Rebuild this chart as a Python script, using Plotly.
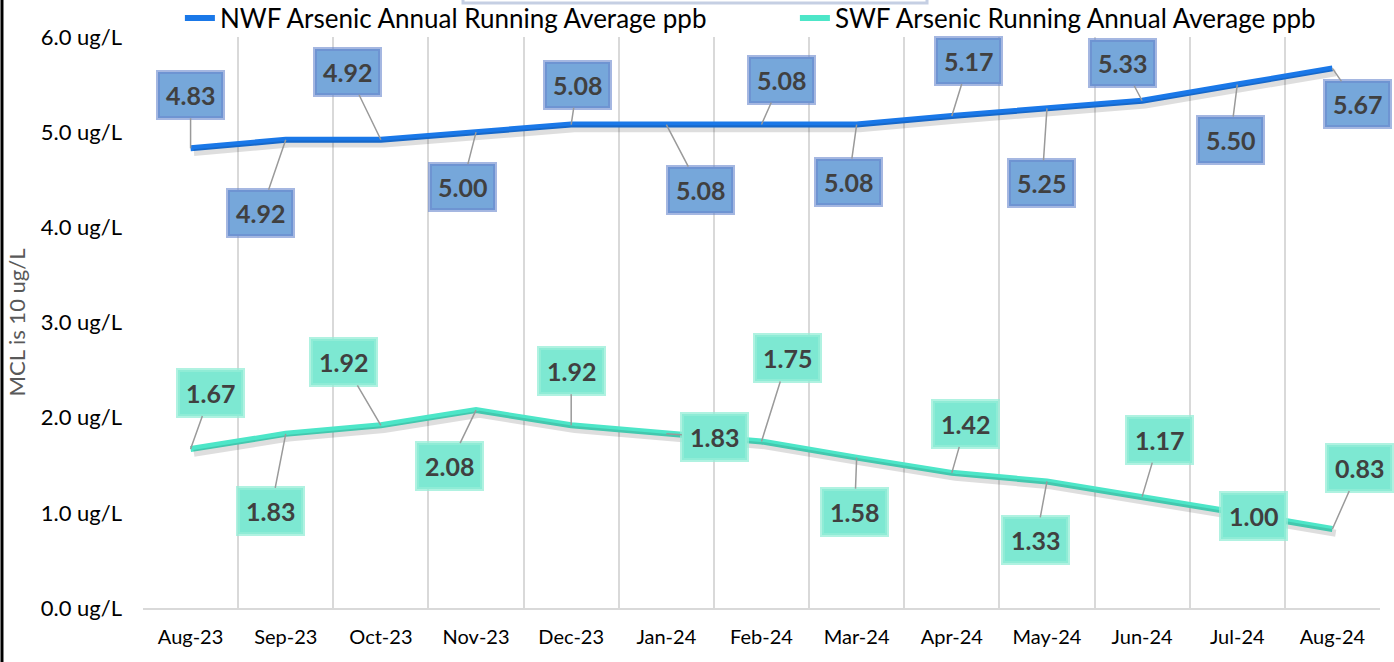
import plotly.graph_objects as go

months = ["Aug-23", "Sep-23", "Oct-23", "Nov-23", "Dec-23", "Jan-24", "Feb-24",
          "Mar-24", "Apr-24", "May-24", "Jun-24", "Jul-24", "Aug-24"]
nwf = [4.83, 4.92, 4.92, 5.00, 5.08, 5.08, 5.08, 5.08, 5.17, 5.25, 5.33, 5.50, 5.67]
swf = [1.67, 1.83, 1.92, 2.08, 1.92, 1.83, 1.75, 1.58, 1.42, 1.33, 1.17, 1.00, 0.83]
nwf_name = "NWF Arsenic Annual Running Average ppb"
swf_name = "SWF Arsenic Running Annual Average ppb"

# label offsets (pixels) for data labels
nwf_off = [(0, -53), (-25, 73), (-33, -68), (-14, 55), (6, -40), (34, 65), (20, -45),
           (-8, 57), (17, -55), (-5, 75), (-20, -38), (-7, 55), (25, 36)]
swf_off = [(20, -56), (-15, 77), (-37, -63), (-27, 56), (0, -54), (48, 3), (26, -83),
           (-2, 54), (14, -49), (-11, 59), (17, -57), (16, 3), (27, -61)]

BLUE = "#1a78e8"
TEAL = "#4de6c8"
FONT = "Lato"

fig = go.Figure()

# soft shadows (same data on slightly shifted overlay axes)
for vals in (nwf, swf):
    fig.add_trace(go.Scatter(x=months, y=vals, mode="lines", xaxis="x2", yaxis="y2",
                             line=dict(color="rgba(0,0,0,0.13)", width=7),
                             showlegend=False, hoverinfo="skip"))

fig.add_trace(go.Scatter(x=months, y=nwf, mode="lines", name=nwf_name,
                         line=dict(color=BLUE, width=6)))
fig.add_trace(go.Scatter(x=months, y=swf, mode="lines", name=swf_name,
                         line=dict(color=TEAL, width=6)))

annotations = []
for m, v, (ax, ay) in zip(months, nwf, nwf_off):
    annotations.append(dict(x=m, y=v, xref="x", yref="y", ax=ax, ay=ay,
                            text=f"<b>{v:.2f}</b>", showarrow=True, arrowhead=0,
                            arrowwidth=1.5, arrowcolor="#9a9a9a", standoff=0,
                            font=dict(family=FONT, size=25, color="#404040"),
                            bgcolor="#76a7da", bordercolor="rgba(105,135,205,0.6)",
                            borderwidth=4, borderpad=6))
for m, v, (ax, ay) in zip(months, swf, swf_off):
    annotations.append(dict(x=m, y=v, xref="x", yref="y", ax=ax, ay=ay,
                            text=f"<b>{v:.2f}</b>", showarrow=True, arrowhead=0,
                            arrowwidth=1.5, arrowcolor="#9a9a9a", standoff=0,
                            font=dict(family=FONT, size=25, color="#404040"),
                            bgcolor="#7de8d2", bordercolor="rgba(150,238,215,0.75)",
                            borderwidth=4, borderpad=6))

dx = 0.035
dy = 0.045
fig.update_layout(
    width=1394, height=662,
    margin=dict(l=143, r=14, t=37, b=54, autoexpand=False),
    paper_bgcolor="white", plot_bgcolor="white",
    font=dict(family=FONT, color="#000000"),
    xaxis=dict(type="category", categoryorder="array", categoryarray=months,
               range=[-0.5, 12.5], tickson="boundaries", showgrid=True,
               gridcolor="#d9d9d9", gridwidth=2, showline=True, linecolor="#d9d9d9",
               linewidth=2, ticks="", tickfont=dict(size=20, color="#000000"),
               ticklabelstandoff=10, zeroline=False),
    yaxis=dict(range=[0, 6], dtick=1, tickformat=".1f", ticksuffix=" ug/L",
               showgrid=False, zeroline=False, showline=False, ticks="",
               tickfont=dict(size=22, color="#000000"), ticklabelstandoff=20,
               title=dict(text="MCL is 10 ug/L", font=dict(size=22, color="#595959"),
                          standoff=9)),
    xaxis2=dict(type="category", categoryorder="array", categoryarray=months,
                overlaying="x", range=[-0.5 - dx, 12.5 - dx], visible=False),
    yaxis2=dict(overlaying="y", range=[0 + dy, 6 + dy], visible=False),
    legend=dict(orientation="h", x=0.527, xanchor="center", y=1.033, yanchor="middle",
                font=dict(size=26, color="#000000"), bgcolor="rgba(0,0,0,0)",
                traceorder="normal", entrywidth=570, entrywidthmode="pixels"),
    annotations=annotations,
    shapes=[
        dict(type="line", xref="paper", yref="paper", x0=-0.1140, x1=-0.1140,
             y0=-0.12, y1=1.1, line=dict(color="#000000", width=3)),
        dict(type="rect", xref="paper", yref="paper", x0=0.2587, x1=0.6338,
             y0=1.0595, y1=1.2, fillcolor="white",
             line=dict(color="rgba(140,160,200,0.5)", width=3)),
    ],
    showlegend=True,
)

fig.write_html("out.html", config={"displayModeBar": False},
               post_script="document.body.style.margin='0';document.body.style.overflow='hidden';")
